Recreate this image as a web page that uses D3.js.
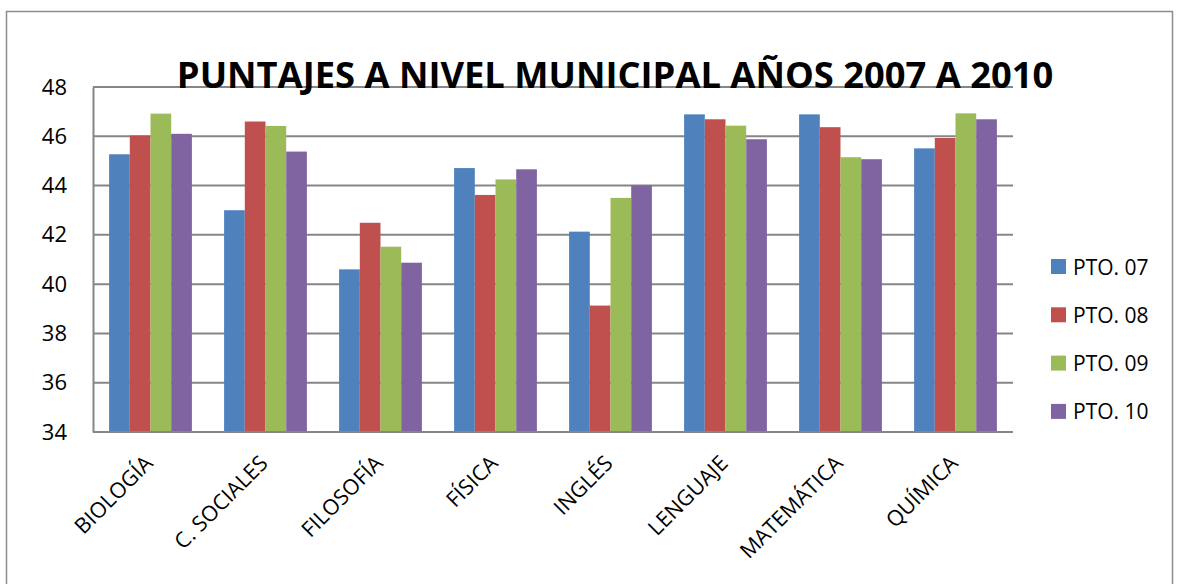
<!DOCTYPE html>
<html>
<head>
<meta charset="utf-8">
<script src="https://cdn.jsdelivr.net/npm/d3@7"></script>
<style>
  body { margin: 0; background: #fff; }
  svg { display: block; font-family: "Open Sans", sans-serif; }
</style>
</head>
<body>
<svg id="chart"></svg>
<script>
var categories = ["BIOLOGÍA", "C. SOCIALES", "FILOSOFÍA", "FÍSICA", "INGLÉS", "LENGUAJE", "MATEMÁTICA", "QUÍMICA"];
var seriesNames = ["PTO. 07", "PTO. 08", "PTO. 09", "PTO. 10"];
var pto07 = [45.27, 43.0, 40.6, 44.71, 42.13, 46.89, 46.89, 45.51];
var pto08 = [46.03, 46.6, 42.49, 43.62, 39.13, 46.69, 46.37, 45.93];
var pto09 = [46.92, 46.42, 41.52, 44.25, 43.5, 46.43, 45.15, 46.93];
var pto10 = [46.1, 45.38, 40.87, 44.66, 44.01, 45.88, 45.07, 46.69];
var yTicks = [34, 36, 38, 40, 42, 44, 46, 48];
var colors = ["#4F81BD", "#C0504D", "#9BBB59", "#8064A2"];

var allSeries = [pto07, pto08, pto09, pto10];

var svgWidth = 1177, svgHeight = 584;
var margin = { top: 87, left: 93, right: 164, bottom: 152 };
var width = svgWidth - margin.left - margin.right;
var height = svgHeight - margin.top - margin.bottom;

var svg = d3.select("#chart")
    .attr("width", svgWidth)
    .attr("height", svgHeight);

// outer chart border
svg.append("rect")
    .attr("x", 6.5).attr("y", 11.5)
    .attr("width", 1166).attr("height", 600)
    .attr("fill", "none")
    .attr("stroke", "#8c8c8c")
    .attr("stroke-width", 1.5);

var g = svg.append("g")
    .attr("transform", "translate(" + margin.left + "," + margin.top + ")");

var x = d3.scaleBand()
    .domain(categories)
    .range([0, width])
    .paddingInner(0.28)
    .paddingOuter(0.14);

var x1 = d3.scaleBand()
    .domain(d3.range(seriesNames.length))
    .range([0, x.bandwidth()]);

var y = d3.scaleLinear()
    .domain([34, 48])
    .range([height, 0]);

// gridlines
g.append("g")
    .selectAll("line")
    .data(yTicks)
    .join("line")
    .attr("x1", 0).attr("x2", width)
    .attr("y1", function(d) { return y(d); })
    .attr("y2", function(d) { return y(d); })
    .attr("stroke", "#868686")
    .attr("stroke-width", 2);

// y axis
var yAxis = g.append("g")
    .call(d3.axisLeft(y).tickValues(yTicks).tickSize(0).tickPadding(26));
yAxis.select(".domain").attr("stroke", "#868686").attr("stroke-width", 2);
yAxis.selectAll("text")
    .attr("font-size", 22)
    .attr("fill", "#000")
    .attr("font-family", "Open Sans");

// bars
var groups = g.append("g")
    .selectAll("g")
    .data(categories)
    .join("g")
    .attr("transform", function(d) { return "translate(" + x(d) + ",0)"; });

groups.selectAll("rect")
    .data(function(d, i) {
      return allSeries.map(function(s, k) { return { k: k, value: s[i] }; });
    })
    .join("rect")
    .attr("x", function(d) { return x1(d.k); })
    .attr("y", function(d) { return y(d.value); })
    .attr("width", x1.bandwidth())
    .attr("height", function(d) { return height - y(d.value); })
    .attr("fill", function(d) { return colors[d.k]; });

// x axis line
g.append("line")
    .attr("x1", 0).attr("x2", width)
    .attr("y1", height).attr("y2", height)
    .attr("stroke", "#868686")
    .attr("stroke-width", 2);

// category labels, rotated
g.append("g")
    .selectAll("text")
    .data(categories)
    .join("text")
    .attr("transform", function(d) {
      var cx = x(d) + x.bandwidth() / 2 - 7;
      return "translate(" + cx + "," + (height + 22) + ") rotate(-45)";
    })
    .attr("text-anchor", "end")
    .attr("dy", "0.7em")
    .attr("font-size", 21.5)
    .attr("fill", "#000")
    .text(function(d) { return d; });

// title
svg.append("text")
    .attr("x", 615)
    .attr("y", 88)
    .attr("text-anchor", "middle")
    .attr("font-weight", "bold")
    .attr("font-size", 36.3)
    .attr("fill", "#000")
    .text("PUNTAJES A NIVEL MUNICIPAL AÑOS 2007 A 2010");

// legend
var legend = svg.append("g")
    .attr("transform", "translate(1051,259)");

var item = legend.selectAll("g")
    .data(seriesNames)
    .join("g")
    .attr("transform", function(d, i) { return "translate(0," + (i * 48.3) + ")"; });

item.append("rect")
    .attr("width", 15).attr("height", 15)
    .attr("fill", function(d, i) { return colors[i]; });

item.append("text")
    .attr("x", 22)
    .attr("y", 8)
    .attr("dy", "0.36em")
    .attr("font-size", 21)
    .attr("fill", "#000")
    .text(function(d) { return d; });
</script>
</body>
</html>
